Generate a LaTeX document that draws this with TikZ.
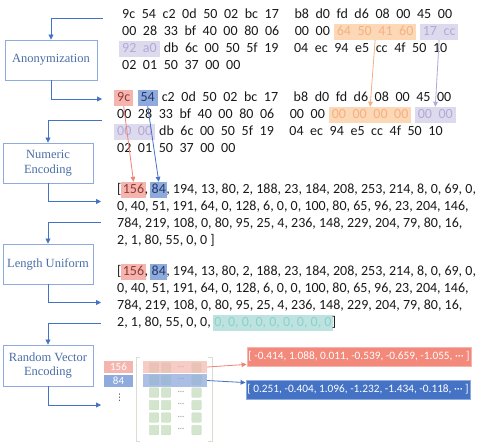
\documentclass[tikz,border=0pt]{standalone}
\usepackage{fontspec}
\setmainfont{Liberation Serif}
\newfontfamily\calfont{Carlito}
\newfontfamily\djvfont{DejaVu Sans}
\usetikzlibrary{arrows.meta,calc}
\definecolor{stageline}{HTML}{8FAADC}
\definecolor{stagetext}{HTML}{4A6EA8}
\definecolor{flowblue}{HTML}{4472C4}
\definecolor{orfill}{HTML}{FCD8B6}
\definecolor{ortext}{HTML}{F4B183}
\definecolor{lifill}{HTML}{DEDAEE}
\definecolor{litext}{HTML}{B4A9D6}
\definecolor{pkfill}{HTML}{F5B5AE}
\definecolor{pktext}{HTML}{8E3B36}
\definecolor{blfill}{HTML}{8FAADC}
\definecolor{bltext}{HTML}{23396A}
\definecolor{tefill}{HTML}{BDE3E0}
\definecolor{tetext}{HTML}{8FCFCA}
\definecolor{pkline}{HTML}{EE8277}
\definecolor{orline}{HTML}{F4B183}
\definecolor{liline}{HTML}{B4A7D6}
\definecolor{sqfill}{HTML}{D3E6CD}
\definecolor{sqline}{HTML}{C4DCBC}
\definecolor{brkcol}{HTML}{D5DFD2}
\definecolor{pvfill}{HTML}{F2897B}
\definecolor{pvline}{HTML}{F5B5AE}
\definecolor{bvfill}{HTML}{4472C4}
\definecolor{bvline}{HTML}{8FAADC}
\newcommand\hexfont{\calfont\fontsize{14}{16}\selectfont\spaceskip=6.6pt\relax}
\newcommand\mg{\hspace{9pt}}
\begin{document}
\begin{tikzpicture}[x=1pt,y=-1pt,
  stage/.style={draw=stageline, line width=0.9pt, fill=white, text=stagetext,
    font=\fontsize{12.5}{14.5}\selectfont, align=center, inner sep=1pt},
  flow/.style={draw=flowblue, line width=0.8pt, -{Triangle[length=5pt,width=5pt]}},
  dat/.style={font=\calfont\fontsize{14}{16}\selectfont, inner sep=0pt, anchor=base west,
    text height=10pt, text depth=3pt, text=black!90},
  hex/.style={dat, font=\hexfont},
  hl/.style={hex, inner xsep=3pt, inner ysep=1.5pt},
  hlo/.style={hl, fill=orfill, text=ortext},
  hll/.style={hl, fill=lifill, text=litext},
  hlp/.style={hl, fill=pkfill, text=pktext},
  hlb/.style={hl, fill=blfill, text=bltext},
  lhl/.style={dat, inner xsep=1.5pt, inner ysep=1.5pt},
  lhp/.style={lhl, fill=pkfill, text=pktext},
  lhb/.style={lhl, fill=blfill, text=bltext},
  lht/.style={lhl, fill=tefill, text=tetext},
  lab/.style={minimum width=29pt, minimum height=12pt, inner sep=0pt, text=white,
    font=\calfont\fontsize{11}{12}\selectfont},
  sq/.style={minimum size=9.5pt, inner sep=0pt, fill=sqfill, draw=sqline, line width=0.4pt, rounded corners=0.8pt},
  sqdots/.style={inner sep=0pt, text=black!35, font=\calfont\fontsize{9}{10}\selectfont},
  brk/.style={draw=brkcol, line width=1pt},
  vec/.style={minimum width=224pt, minimum height=19pt, inner sep=0pt, text=white,
    font=\calfont\fontsize{11.3}{13}\selectfont, line width=0.8pt},
  thin/.style={line width=0.8pt, -{Triangle[length=5pt,width=4.5pt]}}
]
\fill[white] (0,0) rectangle (495,444);
\useasboundingbox (0,0) rectangle (495,444);

% stage boxes
\node[stage, minimum width=92pt, minimum height=40pt] (anon) at (51,60) {Anonymization};
\node[stage, minimum width=90pt, minimum height=40pt] (numenc) at (48,163) {Numeric\\Encoding};
\node[stage, minimum width=90pt, minimum height=40pt] (lenuni) at (48,264) {Length Uniform};
\node[stage, minimum width=90pt, minimum height=41pt] (rvenc) at (48,365.5) {Random Vector\\Encoding};

% flow connectors
\coordinate (i1) at (103,18);
\coordinate (o1) at (102,99);
\coordinate (i2) at (102,120);
\coordinate (o2) at (101,201.5);
\coordinate (i3) at (101,222.5);
\coordinate (o3) at (101,302.5);
\coordinate (i4) at (101,323.5);
\coordinate (o4) at (101,405);
\draw[flow] (i1) -| (anon.north);
\draw[flow] (anon.south) |- (o1);
\draw[flow] (i2) -| (numenc.north);
\draw[flow] (numenc.south) |- (o2);
\draw[flow] (i3) -| (lenuni.north);
\draw[flow] (lenuni.south) |- (o3);
\draw[flow] (i4) -| (rvenc.north);
\draw[flow] (rvenc.south) |- (o4);

% block 1 (raw bytes)
\node[hex] (a11) at (122,18.5) {9c 54 c2 0d 50 02 bc 17\mg{} b8 d0 fd d6 08 00 45 00};
\node[hex] (a21) at (122,35.5) {00 28 33 bf 40 00 80 06\mg{} 00 00};
\node[hlo] (a22) at ([xshift=3.6pt]a21.base east) {64 50 41 60};
\node[hll] (a23) at ([xshift=3pt]a22.base east) {17 cc};
\node[hll] (a31) at (119,52.5) {92 a0};
\node[hex] (a32) at ([xshift=3.6pt]a31.base east) {db 6c 00 50 5f 19\mg{} 04 ec 94 e5 cc 4f 50 10};
\node[hex] (a41) at (122,69.5) {02 01 50 37 00 00};

% block 2 (anonymized bytes)
\node[hlp] (b11) at (114,101.5) {9c};
\node[hlb] (b12) at ([xshift=4pt]b11.base east) {54};
\node[hex] (b13) at ([xshift=3.6pt]b12.base east) {c2 0d 50 02 bc 17\mg{} b8 d0 fd d6 08 00 45 00};
\node[hex] (b21) at (117,118.5) {00 28 33 bf 40 00 80 06\mg{} 00 00};
\node[hlo] (b22) at ([xshift=3.6pt]b21.base east) {00 00 00 00};
\node[hll] (b23) at ([xshift=3pt]b22.base east) {00 00};
\node[hll] (b31) at (114,135.5) {00 00};
\node[hex] (b32) at ([xshift=3.6pt]b31.base east) {db 6c 00 50 5f 19\mg{} 04 ec 94 e5 cc 4f 50 10};
\node[hex] (b41) at (117,152.5) {02 01 50 37 00 00};

% numeric list
\node[dat] (n1a) at (117,193.5) {[};
\node[lhp] (n156) at ([xshift=-0.5pt]n1a.base east) {156};
\node[dat] (n1b) at ([xshift=-1.5pt]n156.base east) {,};
\node[lhb] (n84) at ([xshift=1.7pt]n1b.base east) {84};
\node[dat] (n1c) at ([xshift=-1.5pt]n84.base east) {, 194, 13, 80, 2, 188, 23, 184, 208, 253, 214, 8, 0, 69, 0,};
\node[dat] (n2) at (117,210.5) {0, 40, 51, 191, 64, 0, 128, 6, 0, 0, 100, 80, 65, 96, 23, 204, 146,};
\node[dat] (n3) at (117,227.5) {784, 219, 108, 0, 80, 95, 25, 4, 236, 148, 229, 204, 79, 80, 16,};
\node[dat] (n4) at (117,244.5) {2, 1, 80, 55, 0, 0 ]};

% length uniform list
\node[dat] (l1a) at (117,275.5) {[};
\node[lhp] (l156) at ([xshift=-0.5pt]l1a.base east) {156};
\node[dat] (l1b) at ([xshift=-1.5pt]l156.base east) {,};
\node[lhb] (l84) at ([xshift=1.7pt]l1b.base east) {84};
\node[dat] (l1c) at ([xshift=-1.5pt]l84.base east) {, 194, 13, 80, 2, 188, 23, 184, 208, 253, 214, 8, 0, 69, 0,};
\node[dat] (l2) at (117,292.5) {0, 40, 51, 191, 64, 0, 128, 6, 0, 0, 100, 80, 65, 96, 23, 204, 146,};
\node[dat] (l3) at (117,309.5) {784, 219, 108, 0, 80, 95, 25, 4, 236, 148, 229, 204, 79, 80, 16,};
\node[dat] (l4a) at (117,326.5) {2, 1, 80, 55, 0, 0,};
\node[lht] (l4b) at ([xshift=1.7pt]l4a.base east) {0, 0, 0, 0, 0, 0, 0, 0, 0};
\node[dat] (l4c) at ([xshift=-1.5pt]l4b.base east) {]};

% data arrows
\draw[thin, draw=orline] (a22.south) -- (b22.north);
\draw[thin, draw=liline] (a23.south) -- (b23.north);
\draw[thin, draw=pkline] (b11.south) -- (n156.north);
\draw[thin, draw=flowblue] (b12.south) -- (n84.north);

% random vector encoding
\node[lab, fill=pkfill] (lab156) at (118.5,367) {156};
\node[lab, fill=blfill] (lab84) at (118.5,380.5) {84};
\node[inner sep=0pt, text=black!80, font=\djvfont\fontsize{9}{10}\selectfont] (vd) at (119.5,397.5) {⋮};
\foreach \r in {0,...,5} {
  \foreach \c/\xx in {0/154,1/166,2/196.5}
    \node[sq] (s\r\c) at (\xx,367.5+12.5*\r) {};
  \node[sqdots] (d\r) at (181,367.5+12.5*\r) {···};
}
\draw[brk] (140,357) -- (136,357) -- (136,441) -- (140,441);
\draw[brk] (208,357) -- (212,357) -- (212,441) -- (208,441);
\node[fill=pkfill, fill opacity=0.7, minimum width=64pt, minimum height=12pt, inner sep=0pt] (prow) at (175,367) {};
\node[fill=blfill, fill opacity=0.75, minimum width=64pt, minimum height=13pt, inner sep=0pt] (brow) at (175,380.5) {};

\node[vec, fill=pvfill, draw=pvline] (pvec) at (359,356.5) {[ -0.414, 1.088, 0.011, -0.539, -0.659, -1.055, ··· ]};
\node[vec, fill=bvfill, draw=bvline] (bvec) at (358,389.5) {[ 0.251, -0.404, 1.096, -1.232, -1.434, -0.118, ··· ]};
\draw[thin, draw=pkline] (prow.east) -- ([yshift=2pt]pvec.south west);
\draw[thin, draw=flowblue] (brow.east) -- ([yshift=-3pt]bvec.north west);
\end{tikzpicture}
\end{document}
